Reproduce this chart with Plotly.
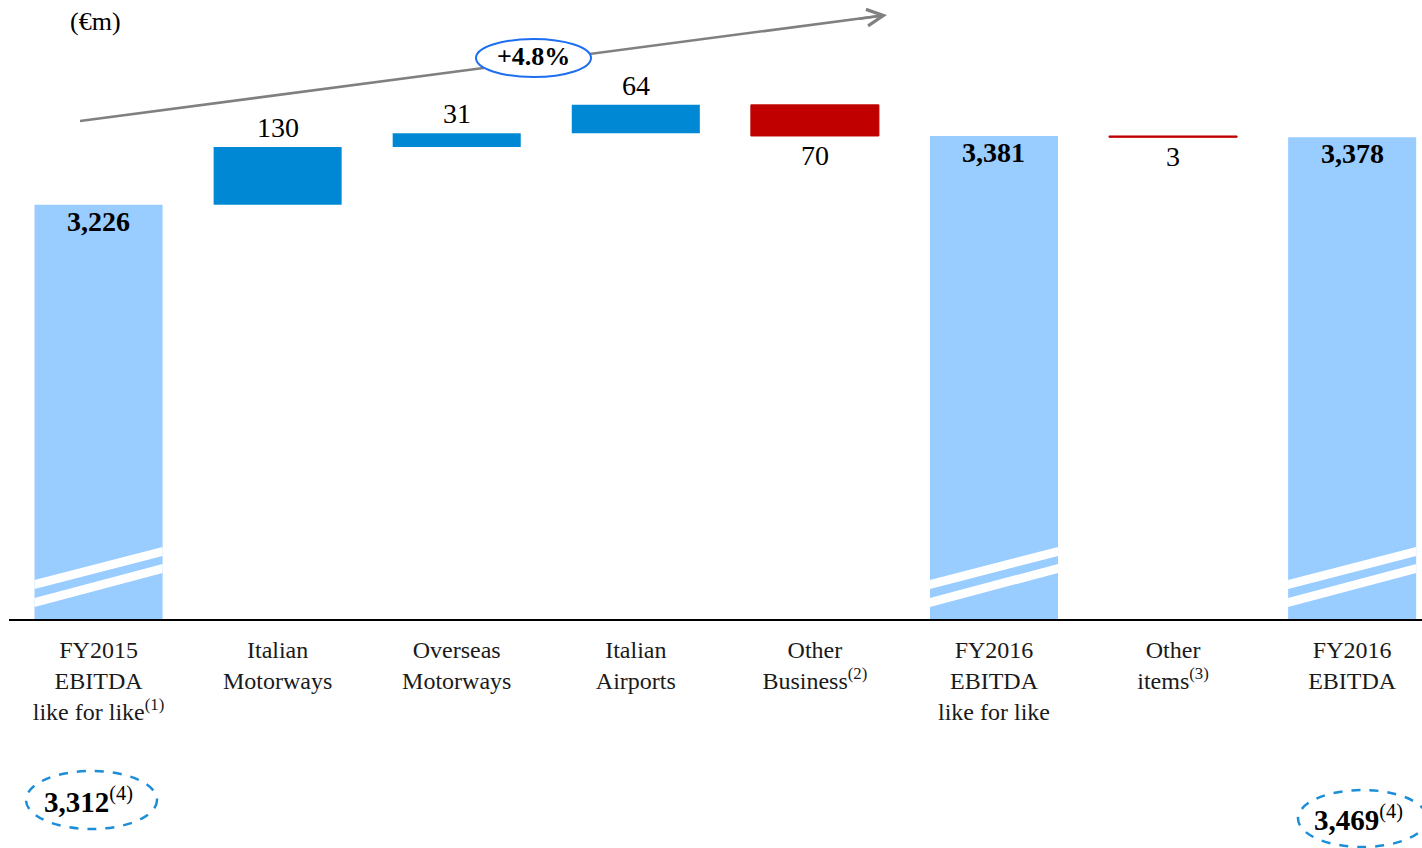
import plotly.graph_objects as go

# ---------------- data ----------------
categories = [
    "FY2015<br>EBITDA<br>like for like<sup>(1)</sup>",
    "Italian<br>Motorways",
    "Overseas<br>Motorways",
    "Italian<br>Airports",
    "Other<br>Business<sup>(2)</sup>",
    "FY2016<br>EBITDA<br>like for like",
    "Other<br>items<sup>(3)</sup>",
    "FY2016<br>EBITDA",
]
values = [3226, 130, 31, 64, -70, 3381, -3, 3378]
measures = ["absolute", "relative", "relative", "relative", "relative", "total", "relative", "total"]
value_labels = ["3,226", "130", "31", "64", "70", "3,381", "3", "3,378"]
reported_2015 = "3,312"
reported_2016 = "3,469"
growth_label = "+4.8%"
unit_label = "(€m)"

# ---------------- styling ----------------
FONT = "Liberation Serif"
C_TOTAL = "#99CCFF"
C_UP = "#0088D4"
C_DOWN = "#C00000"
W, H = 1422, 848
ML, MR, MT, MB = 9, 0, 0, 229
PW, PH = W - ML - MR, H - MT - MB
Y_MIN, Y_MAX = 2294, 3687
X_RANGE = [-0.5, 7.39]
BAR_W = 0.715


def px(xp):
    return (xp - ML) / PW


def py(yp):
    return 1 - (yp - MT) / PH


xs = list(range(len(categories)))

fig = go.Figure(go.Waterfall(
    x=xs,
    y=values,
    measure=measures,
    width=[BAR_W] * len(xs),
    textinfo="none",
    increasing=dict(marker=dict(color=C_UP, line=dict(width=0))),
    decreasing=dict(marker=dict(color=C_DOWN, line=dict(color=C_DOWN, width=1))),
    totals=dict(marker=dict(color=C_TOTAL, line=dict(width=0))),
    connector=dict(visible=False),
    hoverinfo="skip",
))

# value labels positioned from the cumulative data
annotations = []
cum = 0
for i, (v, m, lab) in enumerate(zip(values, measures, value_labels)):
    if m in ("absolute", "total"):
        if m == "absolute":
            cum = v
        annotations.append(dict(x=i, y=cum, xref="x", yref="y", text=f"<b>{lab}</b>",
                                showarrow=False, xanchor="center", yanchor="top", yshift=1,
                                font=dict(family=FONT, size=28, color="black")))
    else:
        cum = cum + v
        if v >= 0:
            annotations.append(dict(x=i, y=cum, xref="x", yref="y", text=lab,
                                    showarrow=False, xanchor="center", yanchor="bottom", yshift=2,
                                    font=dict(family=FONT, size=28, color="black")))
        else:
            annotations.append(dict(x=i, y=cum, xref="x", yref="y", text=lab,
                                    showarrow=False, xanchor="center", yanchor="top", yshift=-2,
                                    font=dict(family=FONT, size=28, color="black")))

# unit label
annotations.append(dict(x=px(95), y=py(22), xref="paper", yref="paper", text=unit_label,
                        showarrow=False, xanchor="center", yanchor="middle",
                        font=dict(family=FONT, size=26, color="black")))

# growth label
annotations.append(dict(x=px(533), y=py(57), xref="paper", yref="paper", text=f"<b>{growth_label}</b>",
                        showarrow=False, xanchor="center", yanchor="middle",
                        font=dict(family=FONT, size=26, color="black")))

# arrow head
hx, hy = 887, 15
tx, ty = 80, 121
annotations.append(dict(x=px(hx), y=py(hy), xref="paper", yref="paper", text=" ",
                        showarrow=True, arrowhead=5, arrowsize=1.3, arrowwidth=2.5,
                        arrowcolor="#808080", ax=-29.8, ay=3.9,
                        font=dict(family=FONT, size=4)))

# reported values
annotations.append(dict(x=px(88), y=py(800), xref="paper", yref="paper",
                        text=f"<b>{reported_2015}</b><sup>(4)</sup>",
                        showarrow=False, xanchor="center", yanchor="middle",
                        font=dict(family=FONT, size=29, color="black")))
annotations.append(dict(x=px(1358), y=py(818), xref="paper", yref="paper",
                        text=f"<b>{reported_2016}</b><sup>(4)</sup>",
                        showarrow=False, xanchor="center", yanchor="middle",
                        font=dict(family=FONT, size=29, color="black")))

shapes = []
# break stripes on the total bars
for i, m in enumerate(measures):
    if m in ("absolute", "total"):
        x0, x1 = i - BAR_W / 2, i + BAR_W / 2
        for (lt, rt) in [(580, 547), (598, 564)]:
            path = (f"M {x0},{py(lt)} L {x1},{py(rt)} L {x1},{py(rt + 9)} "
                    f"L {x0},{py(lt + 9)} Z")
            shapes.append(dict(type="path", xref="x", yref="paper", path=path,
                               fillcolor="white", line=dict(width=0), layer="above"))

# growth arrow line
shapes.append(dict(type="line", xref="paper", yref="paper",
                   x0=px(tx), y0=py(ty), x1=px(hx - 8), y1=py(hy + 1),
                   line=dict(color="#808080", width=2.5)))
# growth ellipse
shapes.append(dict(type="circle", xref="paper", yref="paper",
                   x0=px(476), x1=px(591), y0=py(77), y1=py(39),
                   fillcolor="white", line=dict(color="#1E6EF0", width=2)))
# reported ellipses (dashed)
shapes.append(dict(type="circle", xref="paper", yref="paper",
                   x0=px(26), x1=px(157), y0=py(829), y1=py(771),
                   fillcolor="rgba(0,0,0,0)", line=dict(color="#1A8ED8", width=2.5, dash="dash")))
shapes.append(dict(type="circle", xref="paper", yref="paper",
                   x0=px(1298), x1=px(1427), y0=py(847), y1=py(790),
                   fillcolor="rgba(0,0,0,0)", line=dict(color="#1A8ED8", width=2.5, dash="dash")))

fig.update_layout(
    width=W, height=H,
    margin=dict(l=ML, r=MR, t=MT, b=MB, pad=0),
    paper_bgcolor="white", plot_bgcolor="white",
    showlegend=False,
    annotations=annotations,
    shapes=shapes,
    xaxis=dict(range=X_RANGE, tickmode="array", tickvals=xs, ticktext=categories,
               showgrid=False, zeroline=False, showline=True, linecolor="black",
               linewidth=1.5, ticks="", tickangle=0,
               tickfont=dict(family=FONT, size=24, color="#1a1a1a"), ticklabelstandoff=8),
    yaxis=dict(range=[Y_MIN, Y_MAX], visible=False, showgrid=False, zeroline=False),
)

fig.write_html("out.html")
